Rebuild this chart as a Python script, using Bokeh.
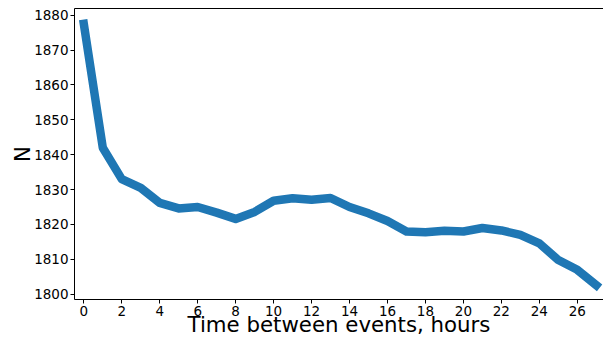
from bokeh.plotting import figure
from bokeh.models import Range1d, LinearAxis, FixedTicker
from bokeh.embed import file_html
from bokeh.resources import INLINE

hours = list(range(28))
counts = [1877.5, 1842.0, 1833.0, 1830.5, 1826.2, 1824.6, 1825.0, 1823.4, 1821.6, 1823.6,
          1826.8, 1827.5, 1827.1, 1827.6, 1825.0, 1823.2, 1821.0, 1818.0, 1817.8, 1818.2,
          1818.0, 1819.0, 1818.3, 1817.0, 1814.6, 1809.8, 1807.0, 1802.6]
x_ticks = list(range(0, 27, 2))
y_ticks = [1800, 1810, 1820, 1830, 1840, 1850, 1860, 1870, 1880]
x_title = "Time between events, hours"
y_title = "N"

FONT = "DejaVu Sans"

p = figure(width=603, height=339, output_backend="svg", toolbar_location=None,
           x_range=Range1d(-0.49, 27.38), y_range=Range1d(1798.5, 1881.9),
           min_border_top=8, min_border_right=0, min_border_left=74, min_border_bottom=10)

p.line(hours, counts, line_width=8.5, line_color="#1f77b4", line_join="round", line_cap="square")

p.grid.visible = False
p.outline_line_color = None
p.background_fill_color = "white"
p.border_fill_color = "white"

for ax in (p.xaxis[0], p.yaxis[0]):
    ax.axis_line_color = "black"
    ax.axis_line_width = 1
    ax.major_tick_line_color = "black"
    ax.major_tick_out = 4
    ax.major_tick_in = 0
    ax.minor_tick_line_color = None
    ax.major_label_text_font = FONT
    ax.major_label_text_font_size = "13.5px"
    ax.major_label_text_color = "black"
    ax.axis_label_text_font = FONT
    ax.axis_label_text_font_size = "21.3px"
    ax.axis_label_text_font_style = "normal"
    ax.axis_label_text_color = "black"
    ax.major_label_standoff = 2

p.xaxis[0].ticker = FixedTicker(ticks=x_ticks)
p.yaxis[0].ticker = FixedTicker(ticks=y_ticks)
p.xaxis[0].axis_label = x_title
p.yaxis[0].axis_label = y_title
p.xaxis[0].axis_label_standoff = -7
p.yaxis[0].axis_label_standoff = -4

top = LinearAxis(axis_line_color="black", major_tick_line_color=None, minor_tick_line_color=None,
                 major_tick_out=0, major_label_standoff=0,
                 major_label_text_font_size="0px", ticker=FixedTicker(ticks=[]))
p.add_layout(top, "above")

open("out.html", "w").write(file_html(p, INLINE))
